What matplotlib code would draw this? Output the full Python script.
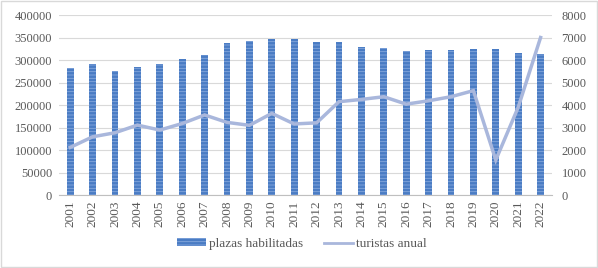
import numpy as np
import matplotlib.pyplot as plt
from matplotlib.lines import Line2D
from matplotlib.patches import Patch

plt.rcParams['font.family'] = ['Liberation Serif', 'DejaVu Serif']
plt.rcParams['hatch.linewidth'] = 0.6

years = [str(y) for y in range(2001, 2023)]
plazas = [283000, 291000, 276000, 284500, 291500, 301500, 311000, 337800, 341500, 347400,
          346700, 340700, 339300, 329000, 326000, 320000, 323000, 323000, 324400, 324400,
          314800, 314000]
turistas = [2120, 2590, 2770, 3110, 2890, 3180, 3560, 3230, 3100, 3630,
            3160, 3210, 4150, 4250, 4370, 4040, 4190, 4370, 4640, 1560,
            3900, 7000]

grey = '#595959'
bar_col = '#4a7cc4'
line_col = '#a9b7dc'

fig = plt.figure(figsize=(5.98, 2.68), dpi=100)
ax = fig.add_axes([0.0987, 0.272, 0.824, 0.672])
ax2 = ax.twinx()

x = np.arange(len(years))
ax.bar(x, plazas, width=0.3, color=bar_col, edgecolor='#86a8dc', hatch='-----', linewidth=0, zorder=2)
ax2.plot(x, turistas, color=line_col, linewidth=2.5, solid_joinstyle='miter', zorder=3)

ax.set_xlim(-0.5, len(years) - 0.5)
ax.set_ylim(0, 400000)
ax2.set_ylim(0, 8000)
ax.set_yticks(np.arange(0, 400001, 50000))
ax2.set_yticks(np.arange(0, 8001, 1000))
ax.set_xticks(x)
ax.set_xticklabels(years, rotation=90)

ax.grid(axis='y', color='#d9d9d9', linewidth=0.8, zorder=0)
ax.set_axisbelow(True)
for a in (ax, ax2):
    for s in a.spines.values():
        s.set_visible(False)
    a.tick_params(length=0, colors=grey, labelsize=9)
ax.spines['bottom'].set_visible(True)
ax.spines['bottom'].set_color('#bfbfbf')
ax.tick_params(axis='x', labelsize=9.5, pad=4)
ax.tick_params(axis='y', pad=5)
ax2.tick_params(axis='y', pad=7)

handles = [Patch(facecolor=bar_col, edgecolor='#86a8dc', hatch='-----', linewidth=0),
           Line2D([], [], color=line_col, linewidth=2)]
fig.legend(handles, ['plazas habilitadas', 'turistas anual'], loc='center',
           bbox_to_anchor=(0.505, 0.09), ncol=2, frameon=False, fontsize=9.5,
           labelcolor=grey, handlelength=2.2, handleheight=0.5, handletextpad=0.2,
           columnspacing=1.6)

fig.patches.append(plt.Rectangle((0.002, 0.004), 0.996, 0.992, transform=fig.transFigure,
                                 fill=False, edgecolor='#d9d9d9', linewidth=1))

fig.savefig('out.png', dpi=100)
